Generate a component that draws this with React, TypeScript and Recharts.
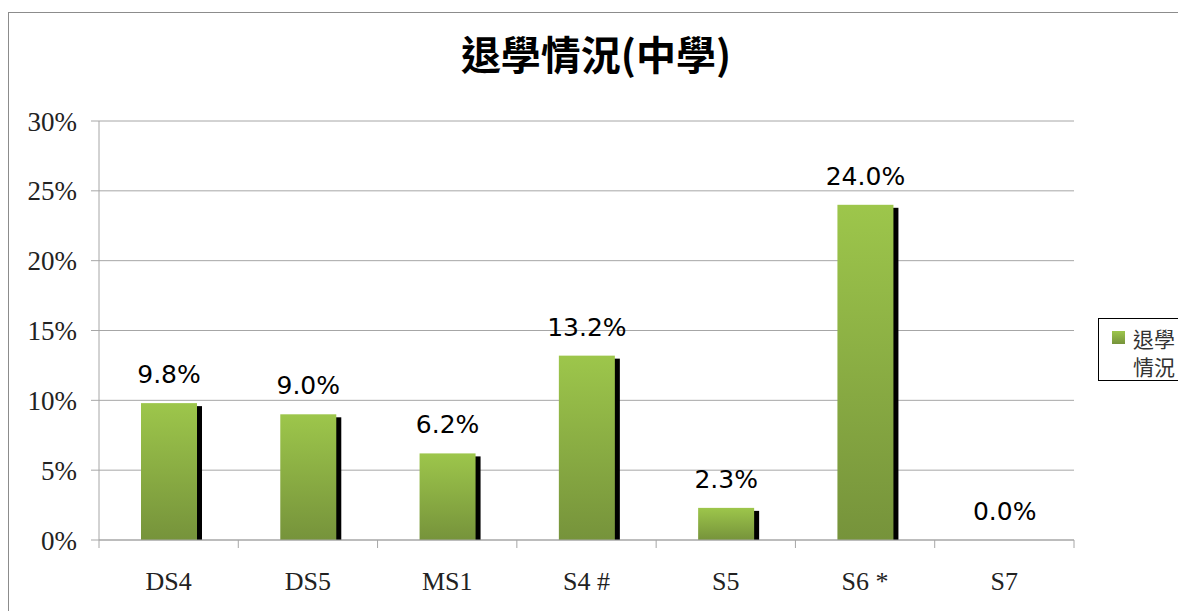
import { BarChart, Bar, XAxis, YAxis, CartesianGrid, LabelList } from 'recharts';

const categories = ['DS4', 'DS5', 'MS1', 'S4 #', 'S5', 'S6 *', 'S7'];
const dropoutRates = [9.8, 9.0, 6.2, 13.2, 2.3, 24.0, 0.0];
const yTicks = [0, 5, 10, 15, 20, 25, 30];
const seriesName = '退學情況';
const chartTitle = '退學情況(中學)';

const data = categories.map((name, i) => ({ name, rate: dropoutRates[i] }));

const CHART_W = 1169;
const CHART_H = 598;
const MARGIN = { top: 108, right: 104, bottom: 11, left: 0 };
const Y_AXIS_W = 90;
const GRID = '#a6a6a6';
const HALF_BAND = (CHART_W - MARGIN.right - MARGIN.left - Y_AXIS_W) / categories.length / 2;

const ShadowBar = (props: any) => {
    const { x, y, width, height } = props;
    if (!height || height <= 0) return null;
    return (
        <g>
            <rect x={x + 5} y={y + 3} width={width} height={Math.max(height - 3, 0)} fill="#000" />
            <rect x={x} y={y} width={width} height={height} fill="url(#barGreen)" />
        </g>
    );
};

const ValueLabel = (props: any) => {
    const box = props.viewBox ?? props;
    const x = box.x ?? props.x;
    const y = box.y ?? props.y;
    const width = box.width ?? props.width;
    return (
        <text x={x + width / 2} y={y - 20} textAnchor="middle" fontFamily="'DejaVu Sans'" fontSize={25} fill="#000">
            {Number(props.value).toFixed(1)}%
        </text>
    );
};

const CategoryTick = (props: any) => {
    const { x, y, payload, index } = props;
    const last = index === categories.length - 1;
    return (
        <g>
            <line x1={x - HALF_BAND} y1={y} x2={x - HALF_BAND} y2={y + 8} stroke={GRID} />
            {last && <line x1={x + HALF_BAND} y1={y} x2={x + HALF_BAND} y2={y + 8} stroke={GRID} />}
            <text x={x} y={y + 50} textAnchor="middle" fontFamily="'Liberation Serif'" fontSize={26} fill="#222">
                {payload.value}
            </text>
        </g>
    );
};

export default function App() {
    return (
        <div style={{ position: 'fixed', left: 8, top: 12, width: 1169, height: 599, borderTop: '1px solid #8c8c8c', borderLeft: '1px solid #8c8c8c', background: '#fff', overflow: 'hidden' }}>
            <div style={{ position: 'absolute', left: 0, top: 20, width: 1174, textAlign: 'center', fontFamily: "'Noto Sans CJK TC'", fontWeight: 700, fontSize: 40, lineHeight: '40px', color: '#000' }}>
                {chartTitle}
            </div>
            <div style={{ position: 'absolute', left: 0, top: 0 }}>
                <BarChart width={CHART_W} height={CHART_H} data={data} margin={MARGIN}>
                    <defs>
                        <linearGradient id="barGreen" x1="0" y1="0" x2="0" y2="1">
                            <stop offset="0%" stopColor="#9dc64b" />
                            <stop offset="100%" stopColor="#76933b" />
                        </linearGradient>
                    </defs>
                    <CartesianGrid vertical={false} stroke={GRID} />
                    <XAxis dataKey="name" stroke={GRID} tickLine={false} tickSize={0} tickMargin={0} height={60} interval={0} tick={<CategoryTick />} />
                    <YAxis
                        width={Y_AXIS_W}
                        domain={[0, 30]}
                        ticks={yTicks}
                        stroke={GRID}
                        tickSize={8}
                        tickMargin={14}
                        tickFormatter={(v) => `${v}%`}
                        tick={{ fill: '#222', fontFamily: "'Liberation Serif'", fontSize: 27 }}
                    />
                    <Bar dataKey="rate" name={seriesName} barSize={56} shape={<ShadowBar />} isAnimationActive={false}>
                        <LabelList dataKey="rate" content={<ValueLabel />} />
                    </Bar>
                </BarChart>
            </div>
            <div style={{ position: 'absolute', left: 1089, top: 305, width: 100, height: 61, border: '1px solid #000', background: '#fff' }}>
                <div style={{ position: 'absolute', left: 13, top: 12, width: 13, height: 13, background: 'linear-gradient(#9dc64b, #76933b)' }} />
                <div style={{ position: 'absolute', left: 34, top: 5, width: 46, fontFamily: "'Noto Sans CJK TC'", fontSize: 21, lineHeight: '28px', color: '#333' }}>
                    {seriesName}
                </div>
            </div>
        </div>
    );
}
